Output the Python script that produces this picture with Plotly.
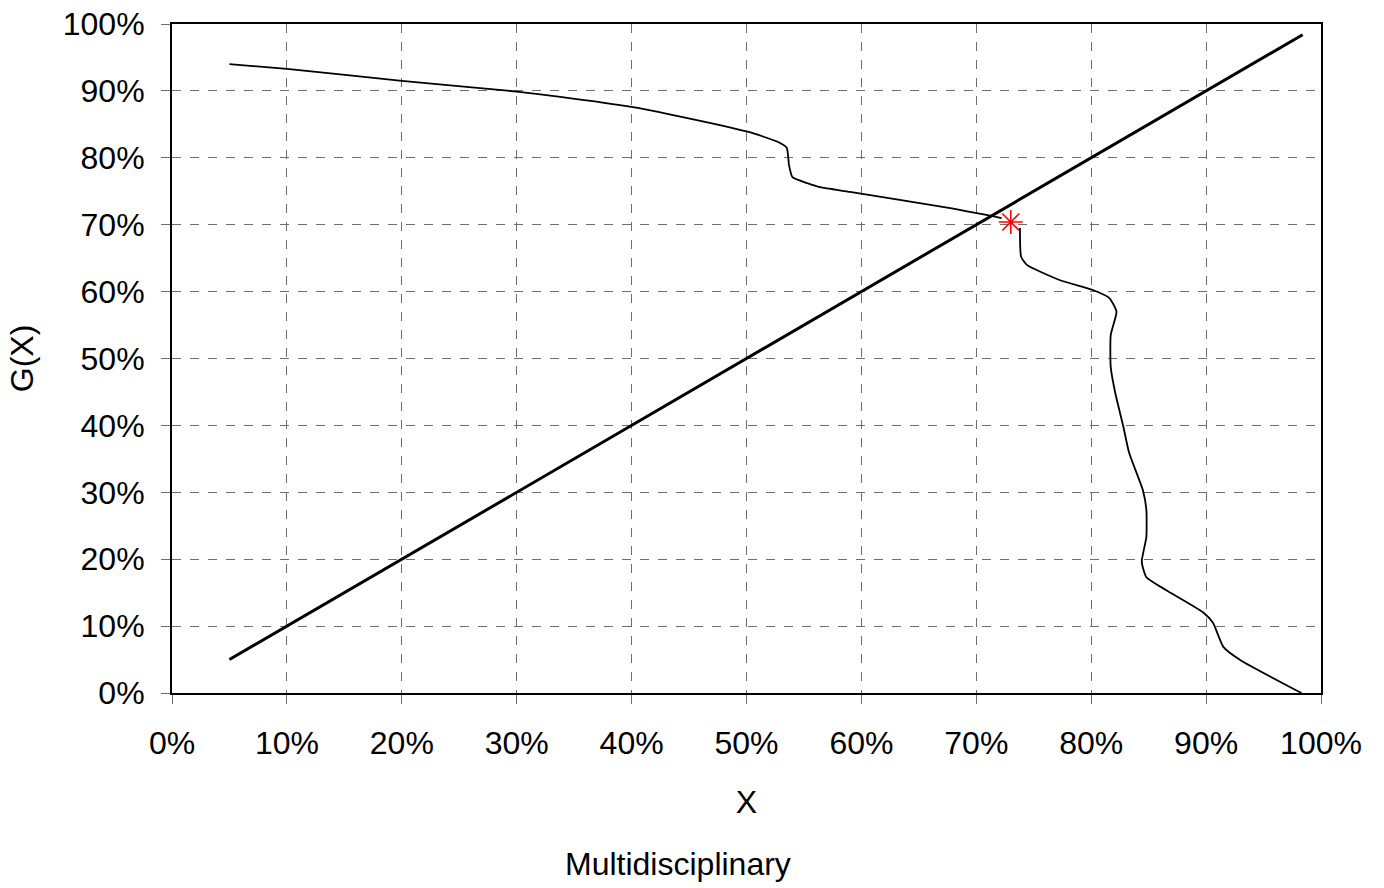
import plotly.graph_objects as go

# Data (percent)
diag_x = [5, 98.4]
diag_y = [5, 98.4]

upper_x = [5, 10, 20, 30, 33.8, 40, 43.3, 50.1, 52.7, 53.5, 53.7, 54.0, 55.3, 56.4, 59.0, 67.6, 72.2]
upper_y = [94.0, 93.3, 91.5, 89.9, 89.1, 87.6, 86.5, 83.9, 82.4, 81.5, 78.9, 77.1, 76.2, 75.6, 74.9, 72.5, 71.0]

lower_x = [73.8, 73.9, 74.4, 77.3, 80.2, 81.6, 82.2, 81.7, 81.7, 82.1, 82.8, 83.3, 84.5, 84.8,
           84.8, 84.4, 84.8, 86.5, 89.7, 90.6, 91.5, 93.0, 98.3]
lower_y = [69.5, 65.2, 64.0, 61.7, 60.2, 59.0, 57.0, 53.5, 48.7, 44.8, 39.8, 35.9, 30.3, 27.4,
           23.3, 19.6, 17.3, 15.4, 12.1, 10.5, 6.9, 4.9, 0.0]

star_x = [73.0]
star_y = [70.4]

x_ticks = list(range(0, 101, 10))
y_ticks = list(range(0, 101, 10))
tick_text = [f"{v}%" for v in x_ticks]

FONT = "Liberation Sans, Arial, sans-serif"
FS = 32

fig = go.Figure()
fig.add_trace(go.Scatter(x=diag_x, y=diag_y, mode="lines",
                         line=dict(color="black", width=3), showlegend=False))
fig.add_trace(go.Scatter(x=upper_x, y=upper_y, mode="lines",
                         line=dict(color="black", width=1.8, shape="spline", smoothing=0.5),
                         showlegend=False))
fig.add_trace(go.Scatter(x=lower_x, y=lower_y, mode="lines",
                         line=dict(color="black", width=1.8, shape="spline", smoothing=0.5),
                         showlegend=False))
fig.add_trace(go.Scatter(x=star_x, y=star_y, mode="markers",
                         marker=dict(symbol="asterisk-open", size=20, color="red",
                                     line=dict(color="red", width=1.6)),
                         showlegend=False))

axis_common = dict(
    showgrid=True, gridcolor="#6e6e6e", griddash="dash", gridwidth=1,
    showline=True, linecolor="black", linewidth=2, mirror=True,
    ticks="outside", ticklen=9, tickcolor="#6e6e6e", tickwidth=1,
    zeroline=False, tickfont=dict(family=FONT, size=FS, color="black"),
    automargin=False,
)

fig.update_xaxes(range=[0, 100], tickvals=x_ticks, ticktext=tick_text, ticklabelstandoff=12,
                 title=dict(text="X", font=dict(family=FONT, size=FS, color="black"), standoff=30),
                 **axis_common)
fig.update_yaxes(range=[0, 100], tickvals=y_ticks, ticktext=tick_text, ticklabelstandoff=10,
                 title=dict(text="G(X)", font=dict(family=FONT, size=FS, color="black"), standoff=20),
                 **axis_common)

fig.add_annotation(text="Multidisciplinary", xref="paper", yref="paper",
                   x=0.44, y=-0.255, showarrow=False, yanchor="middle",
                   font=dict(family=FONT, size=FS, color="black"))

fig.update_layout(
    width=1384, height=888,
    margin=dict(l=172, r=63, t=24, b=195),
    plot_bgcolor="white", paper_bgcolor="white",
)

fig.write_html("out.html")
